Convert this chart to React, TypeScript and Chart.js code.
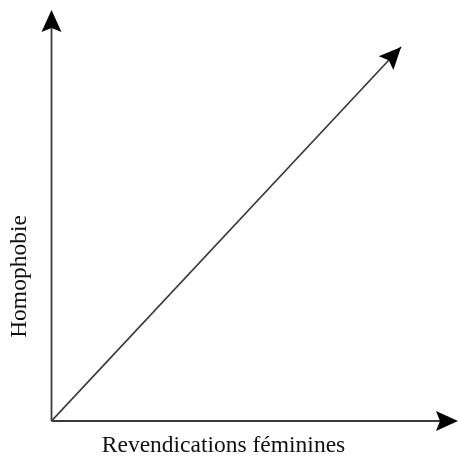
import React, { useEffect, useRef } from "react";
import { Chart, registerables } from "chart.js";

Chart.register(...registerables);

// Axis ranges (conceptual units)
const xRange = [0, 100];
const yRange = [0, 100];
// Trend arrow: from origin toward upper-right
const trendX = [0, 86];
const trendY = [0, 91];
const xLabel = "Revendications féminines";
const yLabel = "Homophobie";

const INK = "#111";
const LINE = "#3a3a3a";

function drawHead(ctx: CanvasRenderingContext2D, tipX: number, tipY: number, angle: number) {
  const len = 22;
  const half = 10;
  const notch = 4;
  ctx.save();
  ctx.translate(tipX, tipY);
  ctx.rotate(angle);
  ctx.beginPath();
  ctx.moveTo(0, 0);
  ctx.lineTo(-len, -half);
  ctx.lineTo(-len + notch, 0);
  ctx.lineTo(-len, half);
  ctx.closePath();
  ctx.fillStyle = "#000";
  ctx.fill();
  ctx.restore();
}

const arrowPlugin = {
  id: "arrowAxes",
  afterDatasetsDraw(chart: any) {
    const { ctx, scales } = chart;
    const xs = scales.x;
    const ys = scales.y;
    const ox = xs.getPixelForValue(xRange[0]);
    const oy = ys.getPixelForValue(yRange[0]);
    const xEnd = xs.getPixelForValue(xRange[1]);
    const yEnd = ys.getPixelForValue(yRange[1]);
    ctx.save();
    ctx.strokeStyle = LINE;
    ctx.lineWidth = 1.8;
    ctx.beginPath();
    ctx.moveTo(ox, oy);
    ctx.lineTo(xEnd - 10, oy);
    ctx.moveTo(ox, oy);
    ctx.lineTo(ox, yEnd + 10);
    ctx.stroke();
    drawHead(ctx, xEnd, oy, 0);
    drawHead(ctx, ox, yEnd, -Math.PI / 2);

    const meta = chart.getDatasetMeta(0);
    const pts = meta.data;
    if (pts.length >= 2) {
      const a = pts[pts.length - 2];
      const b = pts[pts.length - 1];
      const ang = Math.atan2(b.y - a.y, b.x - a.x);
      drawHead(ctx, b.x, b.y, ang);
    }

    ctx.fillStyle = INK;
    ctx.font = "23.5px 'Liberation Serif', 'Times New Roman', serif";
    ctx.textAlign = "center";
    ctx.textBaseline = "alphabetic";
    ctx.fillText(xLabel, 223.5, 452);
    ctx.save();
    ctx.translate(26, 276.5);
    ctx.rotate(-Math.PI / 2);
    ctx.fillText(yLabel, 0, 0);
    ctx.restore();
    ctx.restore();
  },
};

export default function App() {
  const ref = useRef<HTMLCanvasElement | null>(null);
  useEffect(() => {
    document.body.style.margin = "0";
    if (!ref.current) return;
    const chart = new Chart(ref.current, {
      type: "line",
      data: {
        datasets: [
          {
            data: trendX.map((x, i) => ({ x, y: trendY[i] })),
            borderColor: LINE,
            borderWidth: 1.7,
            pointRadius: 0,
            fill: false,
            tension: 0,
          },
        ],
      },
      options: {
        animation: false,
        responsive: true,
        maintainAspectRatio: false,
        layout: { padding: { left: 51.5, top: 10, right: 1, bottom: 35 } },
        plugins: { legend: { display: false }, tooltip: { enabled: false } },
        scales: {
          x: { type: "linear", min: xRange[0], max: xRange[1], display: false },
          y: { type: "linear", min: yRange[0], max: yRange[1], display: false },
        },
      },
      plugins: [arrowPlugin],
    });
    return () => chart.destroy();
  }, []);
  return (
    <div style={{ position: "absolute", left: 0, top: 0, width: 459, height: 456, background: "#fff" }}>
      <canvas ref={ref} />
    </div>
  );
}
